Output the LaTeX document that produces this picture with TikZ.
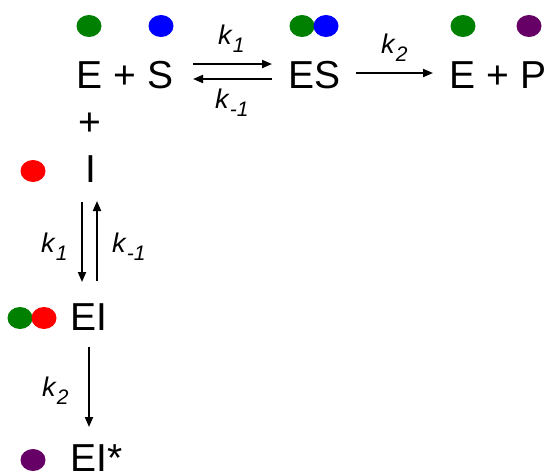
\documentclass[tikz,border=0pt]{standalone}
\usepackage{fontspec}
\setmainfont{Liberation Sans}
\usetikzlibrary{arrows.meta}
\definecolor{dgreen}{RGB}{0,128,0}
\definecolor{dblue}{RGB}{0,0,255}
\definecolor{dred}{RGB}{255,0,0}
\definecolor{dpurple}{RGB}{102,0,102}
\newcommand{\kk}[1]{\textit{k}\raisebox{-0.3em}{\fontsize{21}{21}\selectfont\textit{#1}}}
\begin{document}
\begin{tikzpicture}[x=1pt,y=-1pt,
  species/.style={inner sep=0pt,anchor=base,font=\fontsize{39}{44}\selectfont},
  rate/.style={inner sep=0pt,anchor=base west,font=\fontsize{27}{30}\selectfont},
  rxn/.style={line width=1.9pt,-{Triangle[length=10pt,width=8pt]}},
]
\useasboundingbox (0,0) rectangle (549,475);
% dots
\fill[dgreen] (89,26) ellipse (12.5 and 11);
\fill[dblue] (161,26) ellipse (12.5 and 11);
\fill[dgreen] (302,26) ellipse (12.5 and 11);
\fill[dblue] (326,26) ellipse (12.5 and 11);
\fill[dgreen] (463,26) ellipse (12.5 and 11);
\fill[dpurple] (529,26) ellipse (12.5 and 11);
\fill[dred] (33,171) ellipse (12.5 and 11);
\fill[dgreen] (20,318) ellipse (12.5 and 11);
\fill[dred] (44,318) ellipse (12.5 and 11);
\fill[dpurple] (33,460) ellipse (12.5 and 11);
% species
\node[species] (ES0) at (125,88) {E + S};
\node[species] (ES) at (314.5,88) {ES};
\node[species] (EP) at (498,88) {E + P};
\node[species] (plus) at (90,135) {+};
\node[species] (I) at (91,182) {I};
\node[species,anchor=base west] (EI) at (70,330) {EI};
\node[species,anchor=base west] (EIs) at (70,471) {EI*};
% connector endpoints
\coordinate (a1) at (193,64); \coordinate (a2) at (272,64);
\coordinate (b1) at (272,79); \coordinate (b2) at (193,79);
\coordinate (c1) at (356,73); \coordinate (c2) at (433,73);
\coordinate (d1) at (82,202); \coordinate (d2) at (82,282);
\coordinate (e1) at (97,281); \coordinate (e2) at (97,201);
\coordinate (f1) at (89,347); \coordinate (f2) at (89,427);
\draw[rxn] (a1) -- (a2);
\draw[rxn] (b1) -- (b2);
\draw[rxn] (c1) -- (c2);
\draw[rxn] (d1) -- (d2);
\draw[rxn] (e1) -- (e2);
\draw[rxn] (f1) -- (f2);
% rate labels
\node[rate] (k1t) at (218,44) {\kk{1}};
\node[rate] (km1t) at (215,108) {\kk{-1}};
\node[rate] (k2t) at (381,53) {\kk{2}};
\node[rate] (k1l) at (41,252) {\kk{1}};
\node[rate] (km1l) at (112,252) {\kk{-1}};
\node[rate] (k2l) at (42,396) {\kk{2}};
\end{tikzpicture}
\end{document}
